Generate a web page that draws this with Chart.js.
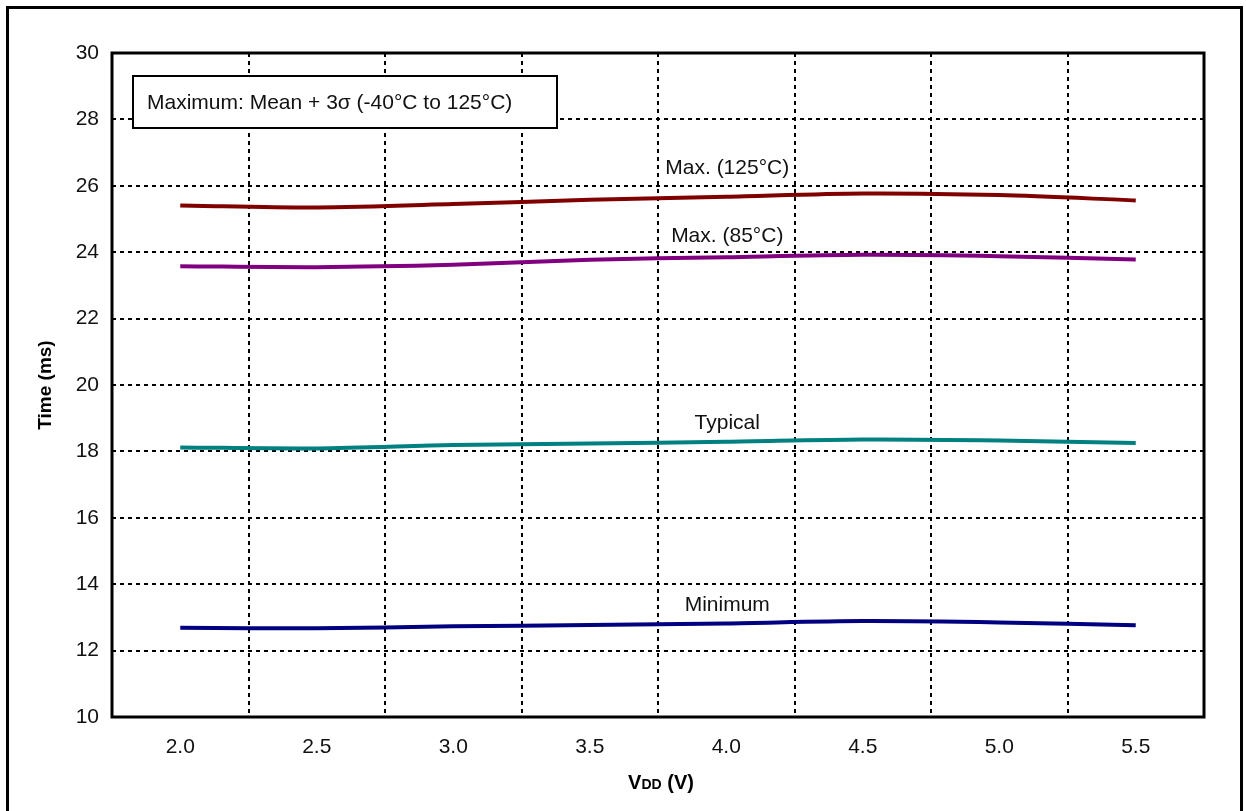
<!DOCTYPE html>
<html>
<head>
<meta charset="utf-8">
<script src="https://cdn.jsdelivr.net/npm/chart.js@4/dist/chart.umd.min.js"></script>
<style>
  html, body { margin: 0; padding: 0; background: #fff; }
  #wrap { width: 1246px; height: 811px; position: relative; }
</style>
</head>
<body>
<div id="wrap"><canvas id="chart" width="1246" height="811"></canvas></div>
<script>
// Supply voltage categories (V)
const vddLabels = ['2.0', '2.5', '3.0', '3.5', '4.0', '4.5', '5.0', '5.5'];

// Time (ms) per curve
const max125 = [25.41, 25.35, 25.45, 25.58, 25.67, 25.77, 25.72, 25.56];
const max85 = [23.58, 23.55, 23.62, 23.77, 23.85, 23.92, 23.88, 23.78];
const typical = [18.12, 18.09, 18.19, 18.24, 18.29, 18.36, 18.33, 18.25];
const minimum = [12.69, 12.67, 12.73, 12.77, 12.82, 12.89, 12.85, 12.76];

const seriesNames = ['Max. (125°C)', 'Max. (85°C)', 'Typical', 'Minimum'];
const seriesColors = ['#800000', '#800080', '#008080', '#000080'];

const yTicks = [10, 12, 14, 16, 18, 20, 22, 24, 26, 28, 30];

const FONT = '"Liberation Sans", Arial, sans-serif';

/**
 * Draws the frames, the note box, curve labels and axis titles.
 */
const decorPlugin = {
    id: 'decor',
    afterDraw(chart) {
        const { ctx, chartArea: area, scales } = chart;
        const x = scales.x;
        const y = scales.y;
        ctx.save();

        // plot frame
        ctx.strokeStyle = '#000';
        ctx.lineWidth = 3;
        ctx.setLineDash([]);
        ctx.strokeRect(area.left, area.top, area.right - area.left, area.bottom - area.top);

        // outer frame
        ctx.lineWidth = 3;
        ctx.strokeRect(7.5, 7.5, 1234, 820);

        // note box
        ctx.fillStyle = '#fff';
        ctx.fillRect(133, 76, 424, 52);
        ctx.lineWidth = 2;
        ctx.strokeRect(133, 76, 424, 52);
        ctx.fillStyle = '#111';
        ctx.font = '21px ' + FONT;
        ctx.textBaseline = 'middle';
        ctx.textAlign = 'left';
        ctx.fillText('Maximum: Mean + 3σ (-40°C to 125°C)', 147, 103);

        // curve labels, centred over the 4.0 V category
        const labelOffsets = [29, 21, 19, 18];
        const curves = [max125, max85, typical, minimum];
        ctx.textAlign = 'center';
        ctx.fillStyle = '#111';
        curves.forEach((vals, i) => {
            const px = x.getPixelForValue(4) + 1;
            const py = y.getPixelForValue(vals[4]) - labelOffsets[i];
            ctx.fillText(seriesNames[i], px, py);
        });

        // y title
        ctx.save();
        ctx.translate(46, (area.top + area.bottom) / 2);
        ctx.rotate(-Math.PI / 2);
        ctx.font = 'bold 19px ' + FONT;
        ctx.textAlign = 'center';
        ctx.fillStyle = '#000';
        ctx.fillText('Time (ms)', 0, 0);
        ctx.restore();

        // x title: V with small-caps DD
        const big = 'bold 20px ' + FONT;
        const small = 'bold 14px ' + FONT;
        ctx.fillStyle = '#000';
        ctx.textAlign = 'left';
        ctx.textBaseline = 'alphabetic';
        ctx.font = big;
        const wV = ctx.measureText('V').width;
        const wRest = ctx.measureText(' (V)').width;
        ctx.font = small;
        const wDD = ctx.measureText('DD').width;
        let tx = 661 - (wV + wDD + wRest) / 2;
        const ty = 789;
        ctx.font = big;
        ctx.fillText('V', tx, ty);
        tx += wV;
        ctx.font = small;
        ctx.fillText('DD', tx, ty);
        tx += wDD;
        ctx.font = big;
        ctx.fillText(' (V)', tx, ty);

        ctx.restore();
    }
};

const datasets = [max125, max85, typical, minimum].map((vals, i) => ({
    label: seriesNames[i],
    data: vals,
    borderColor: seriesColors[i],
    backgroundColor: seriesColors[i],
    borderWidth: 4,
    pointRadius: 0,
    tension: 0.3,
    fill: false
}));

new Chart(document.getElementById('chart'), {
    type: 'line',
    data: { labels: vddLabels, datasets },
    plugins: [decorPlugin],
    options: {
        responsive: false,
        animation: false,
        devicePixelRatio: 1,
        layout: { padding: { left: 0, top: 53, right: 42, bottom: 0 } },
        plugins: {
            legend: { display: false },
            tooltip: { enabled: false }
        },
        scales: {
            x: {
                type: 'category',
                offset: true,
                grid: {
                    offset: true,
                    color: '#000',
                    lineWidth: 2,
                    drawTicks: false
                },
                border: { display: false, dash: [4, 4] },
                ticks: {
                    color: '#111',
                    font: { family: FONT, size: 21 },
                    padding: 18,
                    maxRotation: 0
                },
                afterFit(scale) { scale.height = 94; }
            },
            y: {
                min: 10,
                max: 30,
                afterBuildTicks(scale) {
                    scale.ticks = yTicks.map(v => ({ value: v }));
                },
                grid: {
                    color: '#000',
                    lineWidth: 2,
                    drawTicks: false
                },
                border: { display: false, dash: [4, 4] },
                ticks: {
                    color: '#111',
                    font: { family: FONT, size: 21 },
                    padding: 13
                },
                afterFit(scale) { scale.width = 112; }
            }
        }
    }
});
</script>
</body>
</html>
